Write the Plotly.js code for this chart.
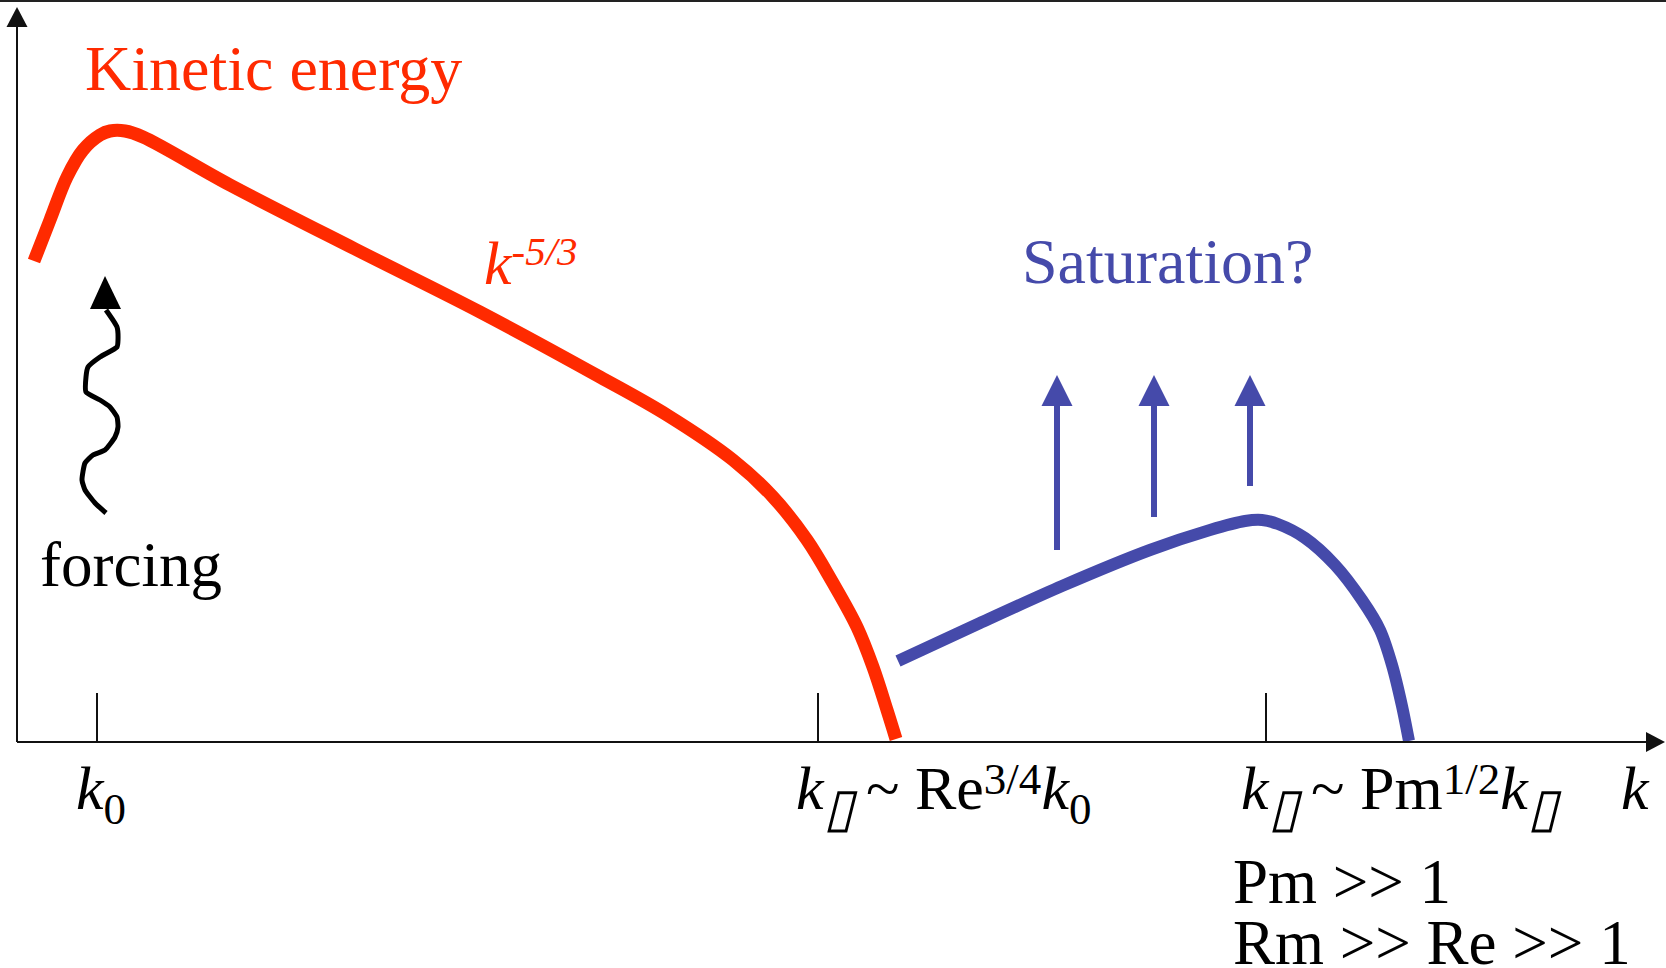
<!DOCTYPE html>
<html>
<head>
<meta charset="utf-8">
<script src="https://cdn.plot.ly/plotly-3.0.1.min.js"></script>
<style>
  html, body { margin: 0; padding: 0; background: #ffffff; }
  #chart { width: 1666px; height: 968px; }
</style>
</head>
<body>
<div id="chart"></div>
<script>
// Schematic energy spectra: wavenumber k along x, spectral energy along y.

// Kinetic energy spectrum (forcing peak, k^-5/3 range, viscous cutoff)
const kineticK = [17, 33, 50, 66, 83, 93, 108, 126, 213, 338, 463, 583, 650, 716, 756, 790, 816, 840, 856, 870, 879];
const kineticE = [481, 522, 565, 592, 607, 611, 611, 605, 557, 493, 430, 365, 327, 282, 245, 202, 159, 115, 75, 32, 3];

// Magnetic energy spectrum (growing towards the resistive scale)
const magneticK = [881, 963, 1045, 1133, 1193, 1228, 1245, 1261, 1288, 1318, 1345, 1363, 1375, 1385, 1392];
const magneticE = [81, 119, 156, 192, 212, 221, 222, 218, 204, 177, 142, 112, 77, 36, 1];

// Wavy "forcing" arrow path
const forcingK = [89, 78, 68, 65, 68, 76, 88, 98, 101, 100, 93, 83, 69, 69, 71, 83, 100, 101, 100, 89];
const forcingE = [229, 239, 252, 262, 279, 287, 292, 305, 315, 325, 335, 342, 350, 365, 375, 385, 395, 402, 415, 432];

// Upward "saturation?" arrows: wavenumber, start and tip height
const boostK = [1040, 1137, 1233];
const boostFrom = [192, 225, 256];
const boostTip = 367;

// Characteristic wavenumbers on the k axis and their labels
const tickK = [80, 801, 1249];
const SUB = (t) => `<span style="font-size:45px;baseline-shift:-15px">${t}</span>`;
const SUP = (t) => `<span style="font-size:45px;baseline-shift:15px">${t}</span>`;
const BOX = `<i><span style="font-size:54px;baseline-shift:-17px">\u25AF</span></i>`;
const tickLabels = [
  `<i>k</i>${SUB('0')}`,
  `<i>k</i>${BOX}\u2009~ Re${SUP('3/4')}<i>k</i>${SUB('0')}`,
  `<i>k</i>${BOX}\u2009~ Pm${SUP('1/2')}<i>k</i>${BOX}`
];
const tickLabelLeft = [58, 778, 1223];

const RED = '#FF2A00';
const BLUE = '#454AAA';
const INK = '#111111';
const SERIF = 'Liberation Serif, Times New Roman, serif';

const traces = [
  {
    x: kineticK, y: kineticE, type: 'scatter', mode: 'lines',
    line: { color: RED, width: 13, shape: 'spline', smoothing: 1 },
    hoverinfo: 'skip'
  },
  {
    x: magneticK, y: magneticE, type: 'scatter', mode: 'lines',
    line: { color: BLUE, width: 12, shape: 'spline', smoothing: 0.8 },
    hoverinfo: 'skip'
  },
  {
    x: forcingK, y: forcingE, type: 'scatter', mode: 'lines',
    line: { color: '#000000', width: 5, shape: 'spline', smoothing: 0.5 },
    hoverinfo: 'skip'
  }
];

const shapes = [];
// frame line along the top edge
shapes.push({ type: 'line', xref: 'paper', yref: 'paper', x0: 0, x1: 1, y0: 1, y1: 1,
  line: { color: '#222222', width: 4 } });
// energy axis with arrow
shapes.push({ type: 'line', x0: 0, y0: 0, x1: 0, y1: 717, line: { color: INK, width: 2 } });
shapes.push({ type: 'path', path: 'M -10.5 715 L 10.5 715 L 0 735 Z', fillcolor: INK, line: { width: 0 } });
// wavenumber axis with arrow
shapes.push({ type: 'line', x0: 0, y0: 0, x1: 1631, y1: 0, line: { color: INK, width: 2 } });
shapes.push({ type: 'path', path: 'M 1629 -10 L 1629 10 L 1648 0 Z', fillcolor: INK, line: { width: 0 } });
// tick marks
tickK.forEach(k => {
  shapes.push({ type: 'line', x0: k, x1: k, y0: 0, y1: 49, line: { color: INK, width: 2 } });
});
// saturation arrows
boostK.forEach((k, i) => {
  shapes.push({ type: 'line', x0: k, x1: k, y0: boostFrom[i], y1: boostTip - 29,
    line: { color: BLUE, width: 6 } });
  shapes.push({ type: 'path',
    path: `M ${k - 15.5} ${boostTip - 31} L ${k + 15.5} ${boostTip - 31} L ${k} ${boostTip} Z`,
    fillcolor: BLUE, line: { width: 0 } });
});
// head of the forcing arrow
const fTop = forcingE[forcingE.length - 1];
const fK = forcingK[forcingK.length - 1];
shapes.push({ type: 'path',
  path: `M ${fK - 16} ${fTop + 1} L ${fK + 15} ${fTop + 1} L ${fK - 1} ${fTop + 34} Z`,
  fillcolor: '#000000', line: { width: 0 } });

function label(text, x, yTop, size, color) {
  return { text, x, y: yTop, xref: 'x', yref: 'y', xanchor: 'left', yanchor: 'top',
    showarrow: false, borderpad: 0, align: 'left',
    font: { family: SERIF, size, color } };
}

const annotations = [
  label('Kinetic energy', 67, 710, 64, RED),
  label(`<i>k<span style="font-size:41px;baseline-shift:19px">-5/3</span></i>`, 466, 515, 62, RED),
  label('Saturation?', 1004, 517, 64, BLUE),
  label('forcing', 22, 213, 63, '#000000'),
  label('<i>k</i>', 1603, -11, 62, '#000000'),
  label('Pm &gt;&gt; 1', 1215, -104, 63, '#000000'),
  label('Rm &gt;&gt; Re &gt;&gt; 1', 1215, -165, 63, '#000000')
];
tickLabels.forEach((t, i) => annotations.push(label(t, tickLabelLeft[i], -11, 62, '#000000')));

const layout = {
  width: 1666, height: 968,
  margin: { l: 0, r: 0, t: 0, b: 0 },
  paper_bgcolor: '#ffffff', plot_bgcolor: '#ffffff',
  xaxis: { range: [-17, 1649], visible: false, fixedrange: true },
  yaxis: { range: [-226, 742], visible: false, fixedrange: true },
  showlegend: false,
  hovermode: false,
  shapes, annotations
};

Plotly.newPlot('chart', traces, layout, { staticPlot: true, displayModeBar: false });
</script>
</body>
</html>
